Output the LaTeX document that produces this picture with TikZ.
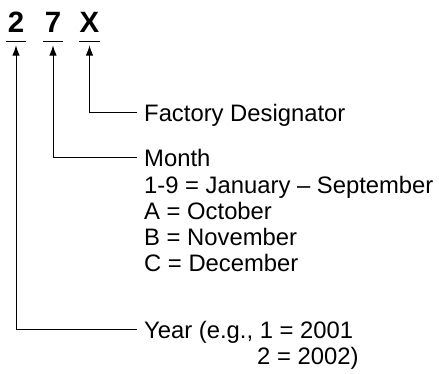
\documentclass[tikz,border=0pt]{standalone}
\usepackage{fontspec}
\setmainfont{Liberation Sans}
\usetikzlibrary{arrows.meta}
\tikzset{
  digit/.style={anchor=base, inner xsep=0pt, inner ysep=0pt, minimum width=19bp,
    text depth=9bp, font=\fontsize{29.5}{32}\selectfont\bfseries},
  uline/.style={line width=1.3bp},
  conn/.style={line width=1bp, -{Latex[length=10.5bp, width=7.5bp]}, shorten >=4bp},
  lbl/.style={anchor=west, inner xsep=7bp, inner ysep=0pt, text height=19bp, text depth=0bp,
    font=\fontsize{23.9}{26}\selectfont},
}
\begin{document}
\begin{tikzpicture}[x=1bp, y=-1bp]
\useasboundingbox (0,0) rectangle (439,373);
% digits
\node[digit] (d2) at (16,32) {2};
\node[digit] (d7) at (53,32) {7};
\node[digit, minimum width=21bp] (dX) at (89.5,32) {X};
\foreach \d in {d2,d7,dX}{
  \draw[uline] (\d.south west) -- (\d.south east);
}
% labels
\node[lbl] (fac) at (137,112) {Factory Designator};
\node[lbl] (mon) at (137,157) {Month};
\node[lbl] (m1) at (137,184) {1-9 = January – September};
\node[lbl] (m2) at (137,210) {A = October};
\node[lbl] (m3) at (137,236) {B = November};
\node[lbl] (m4) at (137,262) {C = December};
\node[lbl] (yr) at (137,329) {Year (e.g., 1 = 2001};
\node[lbl] (yr2) at (250,355) {2 = 2002)};
% connectors
\draw[conn] (fac.west) -| (dX.south);
\draw[conn] (mon.west) -| (d7.south);
\draw[conn] (yr.west) -| (d2.south);
\end{tikzpicture}
\end{document}
